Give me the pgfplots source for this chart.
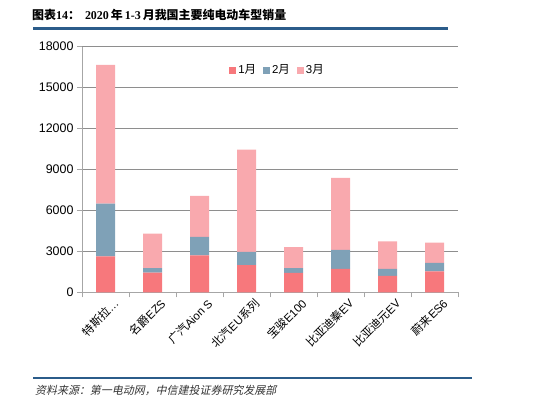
\documentclass[border=0pt]{standalone}
\usepackage{pgfplots}
\pgfplotsset{compat=1.18}
\usepackage{fontspec}
\setmainfont{Liberation Sans}
\newfontfamily\cjk{Noto Sans CJK SC}
\newfontfamily\tnr{Liberation Serif}
\newfontfamily\cjki[FakeSlant=0.22]{Noto Sans CJK SC}
\definecolor{c1}{HTML}{F7787C}
\definecolor{c2}{HTML}{7FA1B7}
\definecolor{c3}{HTML}{F9A9AE}
\definecolor{rulec}{HTML}{2B5C8A}
\definecolor{gridc}{HTML}{8E8E8E}
\definecolor{axc}{HTML}{A6A6A6}
\pgfplotstableread{
x m1 m2 m3
0 2650 3860 10160
1 1460 320 2540
2 2710 1360 3000
3 2000 980 7490
4 1440 340 1540
5 1730 1390 5270
6 1220 510 2020
7 1540 630 1490
}\sales
\begin{document}
\begin{tikzpicture}
\useasboundingbox (0bp,0bp) rectangle (550bp,406bp);
\node[anchor=west,inner sep=0pt,font=\fontsize{12}{14}\selectfont] at (32bp,391bp)
 {{\cjk\bfseries 图表}{\tnr\bfseries 14}{\cjk\bfseries ：}\hspace{5bp}{\tnr\bfseries 2020}\,{\cjk\bfseries 年}\,{\tnr\bfseries 1-3}\,{\cjk\bfseries 月我国主要纯电动车型销量}};
\draw[rulec,line width=2.2bp] (33bp,377.5bp) -- (448bp,377.5bp);
\draw[rulec,line width=1.2bp] (33bp,28bp) -- (472bp,28bp);
\node[anchor=west,inner sep=0pt,font=\fontsize{11}{13}\selectfont,text=black!80] at (35bp,16bp)
 {\cjki 资料来源：第一电动网，中信建投证券研究发展部};
\begin{axis}[
  at={(82bp,113.5bp)}, anchor=south west,
  scale only axis, width=376bp, height=245.8bp,
  ybar stacked, bar width=19bp,
  xmin=-0.5, xmax=7.5, ymin=0, ymax=18000,
  enlargelimits=false,
  axis x line*=bottom, axis y line*=left,
  axis line style={axc,line width=0.9bp},
  xtick={0,...,7},
  xticklabels={{\cjk 特斯拉}…,{\cjk 名爵}EZS,{\cjk 广汽}Aion S,{\cjk 北汽}EU{\cjk 系列},{\cjk 宝骏}E100,{\cjk 比亚迪秦}EV,{\cjk 比亚迪元}EV,{\cjk 蔚来}ES6},
  x tick label style={rotate=45,anchor=north east,font=\fontsize{11.5}{13}\selectfont,inner sep=1bp,yshift=-4bp,xshift=6bp},
  major x tick style={draw=none},
  minor xtick={-0.5,0.5,...,7.5},
  minor x tick style={axc,line width=0.9bp},
  minor tick length=5bp,
  ytick={0,3000,...,18000},
  scaled y ticks=false,
  major tick length=5bp,
  tick align=outside,
  y tick style={axc,line width=0.9bp},
  y tick label style={font=\fontsize{12.5}{14}\selectfont,/pgf/number format/1000 sep={}},
  /pgf/number format/assume math mode=true,
  ymajorgrids, grid style={gridc,line width=1.1bp},
  legend style={at={(0.52,0.905)},anchor=center,draw=none,fill=none,
    legend columns=3,font=\fontsize{11.5}{13}\selectfont,
    /tikz/every even column/.append style={column sep=5bp}},
  legend image code/.code={\fill[#1] (0bp,-3.5bp) rectangle (7bp,3.5bp);},
]
\addplot[fill=c1,draw=none] table[x=x,y=m1]{\sales};
\addplot[fill=c2,draw=none] table[x=x,y=m2]{\sales};
\addplot[fill=c3,draw=none] table[x=x,y=m3]{\sales};
\legend{1{\cjk 月},2{\cjk 月},3{\cjk 月}}
\end{axis}
\end{tikzpicture}
\end{document}
